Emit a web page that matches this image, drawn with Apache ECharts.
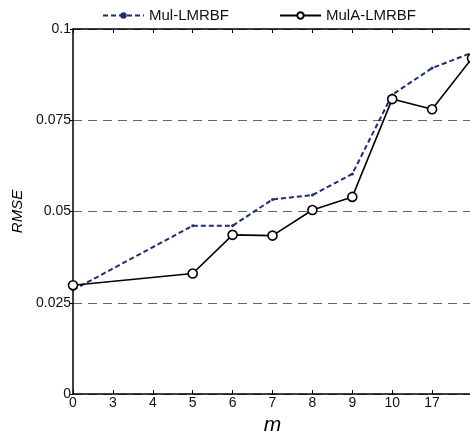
<!DOCTYPE html>
<html>
<head>
<meta charset="utf-8">
<script src="https://cdn.jsdelivr.net/npm/echarts@6/dist/echarts.min.js"></script>
<style>html,body{margin:0;padding:0;background:#fff}#c{width:470px;height:433px}</style>
</head>
<body>
<div id="c"></div>
<script>
const categories = ['0','3','4','5','6','7','8','9','10','17','18'];
const mulLMRBF  = [0.0285, null, null, 0.0461, 0.0461, 0.0533, 0.0545, 0.0603, 0.0820, 0.0893, 0.0935];
const mulALMRBF = [0.0298, null, null, 0.0330, 0.0436, 0.0434, 0.0504, 0.0540, 0.0808, 0.0780, 0.0920];
const yTicks = { min: 0, max: 0.1, interval: 0.025 };

const chart = echarts.init(document.getElementById('c'));
const font = 'Liberation Sans, Arial, sans-serif';
chart.setOption({
  animation: false,
  textStyle: { fontFamily: font },
  legend: {
    top: 3, left: 97, itemGap: 50, itemWidth: 41, itemHeight: 8,
    textStyle: { fontSize: 15, color: '#111', fontFamily: font },
    data: ['Mul-LMRBF', 'MulA-LMRBF']
  },
  grid: { left: 73, top: 29, width: 399, height: 365, containLabel: false, outerBoundsMode: 'none' },
  xAxis: [{
    type: 'category', data: categories, boundaryGap: false,
    name: 'm', nameLocation: 'middle', nameGap: 21,
    nameTextStyle: { fontSize: 21, fontStyle: 'italic', color: '#000', fontFamily: font },
    axisLine: { lineStyle: { color: '#000', width: 1.5 } },
    axisTick: { inside: true, length: 4, lineStyle: { color: '#000' } },
    axisLabel: { fontSize: 14, color: '#111', margin: 2, interval: 0,
      formatter: (v, i) => (i === categories.length - 1 ? '' : v) },
    splitLine: { show: false }
  }, {
    type: 'category', data: categories, boundaryGap: false, position: 'top',
    axisLine: { lineStyle: { color: '#000', width: 1.5 } },
    axisTick: { inside: true, length: 4, lineStyle: { color: '#000' } },
    axisLabel: { show: false }, splitLine: { show: false }
  }],
  yAxis: {
    type: 'value', min: yTicks.min, max: yTicks.max, interval: yTicks.interval,
    name: 'RMSE', nameLocation: 'middle', nameGap: 47, nameRotate: 90,
    nameTextStyle: { fontSize: 15, fontStyle: 'italic', color: '#000', fontFamily: font },
    axisLine: { show: true, lineStyle: { color: '#000', width: 1.5 } },
    axisTick: { show: true, length: 3, lineStyle: { color: '#000' } },
    axisLabel: { fontSize: 14, color: '#111', margin: 2 },
    splitLine: { show: true, lineStyle: { color: '#666', type: [9, 6], width: 1.2 } }
  },
  series: [{
    name: 'Mul-LMRBF', type: 'line', data: mulLMRBF, connectNulls: true,
    symbol: 'circle', symbolSize: 3,
    lineStyle: { color: '#1b2d73', width: 2, type: [5, 3] },
    itemStyle: { color: '#1b2d73' }
  }, {
    name: 'MulA-LMRBF', type: 'line', data: mulALMRBF, connectNulls: true,
    symbol: 'circle', symbolSize: 9,
    lineStyle: { color: '#000', width: 1.6 },
    itemStyle: { color: '#fff', borderColor: '#000', borderWidth: 1.6 }
  }]
});
</script>
</body>
</html>
